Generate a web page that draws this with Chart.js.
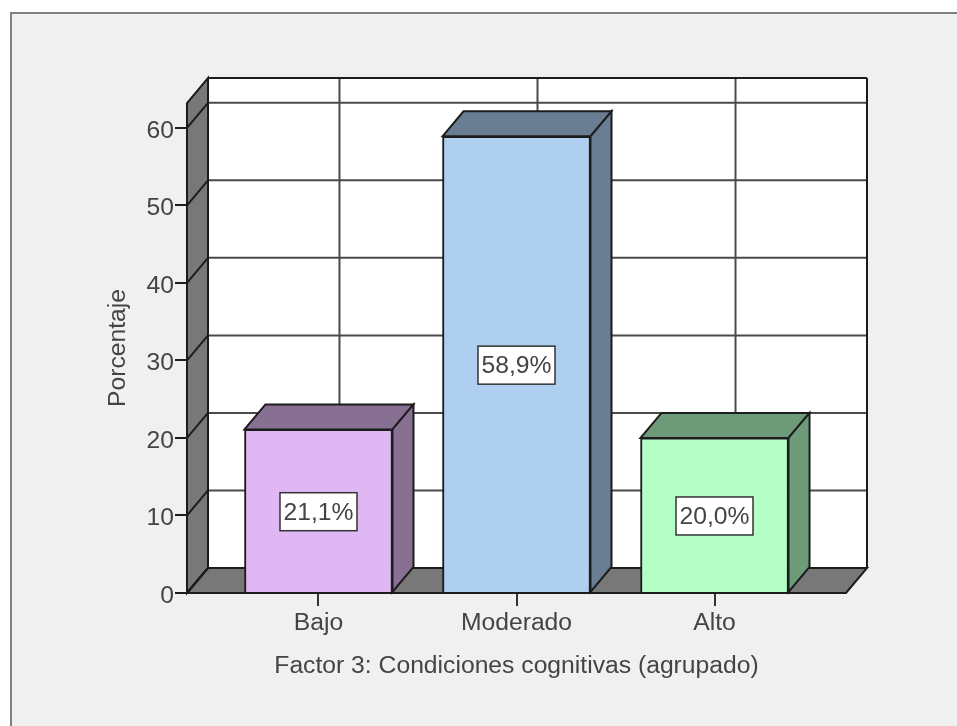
<!DOCTYPE html>
<html>
<head>
<meta charset="utf-8">
<title>Factor 3</title>
<script src="https://cdn.jsdelivr.net/npm/chart.js@4"></script>
<style>
  html, body { margin: 0; padding: 0; background: #fff; overflow: hidden; }
  #panel { position: absolute; left: 10px; top: 12px; width: 947px; height: 714px;
           background: #f0f0f0; border-left: 2px solid #808080; border-top: 2px solid #808080; box-sizing: border-box; }
  #chart { position: absolute; left: 0; top: 0; filter: blur(0.4px); }
</style>
</head>
<body>
<div id="panel"></div>
<canvas id="chart" width="957" height="726"></canvas>
<script>
// ---- Data ----
const categories = ['Bajo', 'Moderado', 'Alto'];
const percentages = [21.1, 58.9, 20.0];
const valueLabels = ['21,1%', '58,9%', '20,0%'];
const yTicks = [0, 10, 20, 30, 40, 50, 60];
const frontColors = ['#dfb8f3', '#aecff0', '#b5ffc6'];
const sideColors = ['#877092', '#697e92', '#6d9a78'];

const depthX = 21, depthY = 25;
const lineColor = '#1c1c1c';
const gridColor = '#4a4a4a';
const wallColor = '#787878';
const textColor = '#444444';
const font = { family: '"Liberation Sans", Arial, sans-serif', size: 24.7 };

function poly(ctx, pts, fill) {
  ctx.beginPath();
  pts.forEach((p, i) => i ? ctx.lineTo(p[0], p[1]) : ctx.moveTo(p[0], p[1]));
  ctx.closePath();
  if (fill) { ctx.fillStyle = fill; ctx.fill(); }
  ctx.stroke();
}

function line(ctx, x1, y1, x2, y2) {
  ctx.beginPath();
  ctx.moveTo(x1, y1);
  ctx.lineTo(x2, y2);
  ctx.stroke();
}

// ---- 3D box: walls, floor, grid and the side/top faces of the bars ----
const box3d = {
  id: 'box3d',
  beforeDatasetsDraw(chart) {
    const { ctx, chartArea: a, scales } = chart;
    const l = a.left, r = a.right, t = a.top, b = a.bottom;
    ctx.save();
    ctx.lineWidth = 2;
    ctx.strokeStyle = lineColor;

    ctx.fillStyle = '#fff';
    ctx.fillRect(l + depthX, t - depthY, r - l, b - t);
    poly(ctx, [[l, b], [l + depthX, b - depthY], [l + depthX, t - depthY], [l, t]], wallColor);
    poly(ctx, [[l, b], [l + depthX, b - depthY], [r + depthX, b - depthY], [r, b]], wallColor);

    ctx.strokeStyle = gridColor;
    yTicks.forEach(v => {
      const y = scales.y.getPixelForValue(v);
      if (v > 0) line(ctx, l + depthX, y - depthY, r + depthX, y - depthY);
      ctx.strokeStyle = lineColor;
      line(ctx, l, y, l + depthX, y - depthY);
      ctx.strokeStyle = gridColor;
    });
    categories.forEach((c, i) => {
      const x = scales.x.getPixelForValue(i) + depthX;
      line(ctx, x, t - depthY, x, b - depthY);
    });

    ctx.strokeStyle = lineColor;
    line(ctx, l + depthX, t - depthY, r + depthX, t - depthY);
    line(ctx, r + depthX, t - depthY, r + depthX, b - depthY);
    line(ctx, l + depthX, t - depthY, l + depthX, b - depthY);
    line(ctx, l, b, r, b);

    chart.getDatasetMeta(0).data.forEach((bar, i) => {
      const x0 = bar.x - bar.width / 2, x1 = bar.x + bar.width / 2;
      poly(ctx, [[x0, bar.y], [x0 + depthX, bar.y - depthY], [x1 + depthX, bar.y - depthY], [x1, bar.y]], sideColors[i]);
      poly(ctx, [[x1, bar.y], [x1 + depthX, bar.y - depthY], [x1 + depthX, bar.base - depthY], [x1, bar.base]], sideColors[i]);
    });
    ctx.restore();
  },
  afterDatasetsDraw(chart) {
    const { ctx } = chart;
    ctx.save();
    ctx.font = font.size + 'px ' + font.family;
    ctx.textAlign = 'center';
    ctx.textBaseline = 'middle';
    chart.getDatasetMeta(0).data.forEach((bar, i) => {
      const cy = (bar.y + bar.base) / 2 + 1;
      ctx.fillStyle = '#fff';
      ctx.strokeStyle = '#333';
      ctx.lineWidth = 1.5;
      ctx.fillRect(bar.x - 38.5, cy - 19, 77, 38);
      ctx.strokeRect(bar.x - 38.5, cy - 19, 77, 38);
      ctx.fillStyle = textColor;
      ctx.fillText(valueLabels[i], bar.x, cy + 1);
    });
    ctx.restore();
  }
};

// ---- Chart ----
new Chart(document.getElementById('chart'), {
  type: 'bar',
  data: {
    datasets: [{
      data: categories.map((c, i) => ({ x: i, y: percentages[i] })),
      backgroundColor: frontColors,
      borderColor: lineColor,
      borderWidth: 2,
      barThickness: 148
    }]
  },
  plugins: [box3d],
  options: {
    responsive: false,
    animation: false,
    layout: { padding: { left: 0, right: 111, top: 103, bottom: 0 } },
    plugins: { legend: { display: false }, tooltip: { enabled: false } },
    scales: {
      x: {
        type: 'linear',
        offset: false,
        min: -0.664,
        max: 2.664,
        afterBuildTicks: s => { s.ticks = categories.map((c, i) => ({ value: i })); },
        afterFit: s => { s.height = 133; },
        grid: { offset: false, drawOnChartArea: false, tickLength: 13, tickColor: '#333', lineWidth: 2 },
        border: { display: false },
        ticks: {
          callback: v => categories[v],
          autoSkip: false,
          maxRotation: 0,
          padding: 2,
          color: textColor,
          font: font
        },
        title: {
          display: true,
          text: 'Factor 3: Condiciones cognitivas (agrupado)',
          color: textColor,
          font: font,
          padding: { top: 0, bottom: 45 }
        }
      },
      y: {
        min: 0,
        max: 63.2,
        afterBuildTicks: s => { s.ticks = yTicks.map(v => ({ value: v })); },
        afterFit: s => { s.width = 187; },
        grid: { drawOnChartArea: false, tickLength: 12, tickColor: lineColor, lineWidth: 2 },
        border: { display: false },
        ticks: { padding: 1, labelOffset: 3, color: textColor, font: font },
        title: {
          display: true,
          text: 'Porcentaje',
          color: textColor,
          font: font,
          padding: { top: 103, bottom: 0 }
        }
      }
    }
  }
});
</script>
</body>
</html>
